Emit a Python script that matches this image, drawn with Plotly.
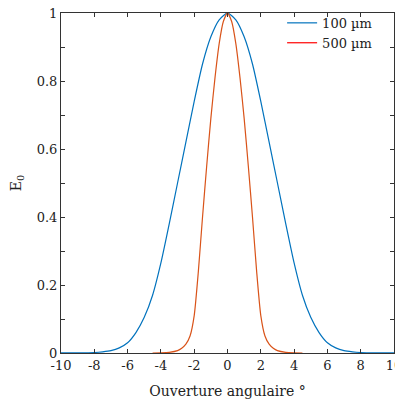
import plotly.graph_objects as go

# Blue curve (100 µm) – half profile, mirrored
blue_x_half = [0, 0.5, 1, 1.5, 2, 2.5, 3, 3.5, 4, 4.5, 5, 5.5, 6, 6.5, 7, 7.5, 8, 9, 10]
blue_y_half = [1, 0.98, 0.93, 0.85, 0.74, 0.62, 0.50, 0.38, 0.265, 0.17, 0.105, 0.06, 0.03, 0.015, 0.007, 0.0035, 0.0015, 0.0004, 0.0001]

# Red curve (500 µm)
red_x_half = [0, 0.25, 0.5, 0.75, 1.0, 1.25, 1.5, 1.75, 2.0, 2.25, 2.5, 2.75, 3.0, 3.5, 4.0, 4.5]
red_y_half = [1, 0.975, 0.91, 0.81, 0.69, 0.55, 0.40, 0.24, 0.11, 0.05, 0.026, 0.014, 0.007, 0.002, 0.0005, 0.0]

blue_x = [-v for v in blue_x_half[::-1]] + blue_x_half[1:]
blue_y = blue_y_half[::-1] + blue_y_half[1:]
red_x = [-v for v in red_x_half[::-1]] + red_x_half[1:]
red_y = red_y_half[::-1] + red_y_half[1:]

x_ticks = list(range(-10, 11, 2))
y_tickvals = [i / 10 for i in range(11)]
y_ticktext = ["0", "", "0.2", "", "0.4", "", "0.6", "", "0.8", "", "1"]

FONT = "DejaVu Serif"

fig = go.Figure()
fig.add_trace(go.Scatter(x=blue_x, y=blue_y, mode="lines", name="100 µm",
                         line=dict(color="#0072BD", width=1.2, shape="spline", smoothing=0.6)))
fig.add_trace(go.Scatter(x=red_x, y=red_y, mode="lines", name="500 µm", showlegend=False,
                         line=dict(color="#D95319", width=1.2, shape="spline", smoothing=0.6)))
fig.add_trace(go.Scatter(x=[None], y=[None], mode="lines", name="500 µm",
                         line=dict(color="#FF0000", width=1.2)))

axis_common = dict(showline=True, linecolor="#333333", linewidth=1, mirror="ticks",
                   ticks="inside", ticklen=4, tickcolor="#333333", showgrid=False,
                   zeroline=False, automargin=False, ticklabeloverflow="allow",
                   tickfont=dict(family=FONT, size=13, color="#222"))

fig.update_layout(
    width=395, height=391,
    margin=dict(l=53, r=9, t=5, b=46, autoexpand=False),
    paper_bgcolor="white", plot_bgcolor="white",
    font=dict(family=FONT, size=13, color="#222"),
    xaxis=dict(range=[-10, 10], tickvals=x_ticks, ticktext=[str(v) for v in x_ticks],
               title=dict(text="Ouverture angulaire °", font=dict(family=FONT, size=14), standoff=14),
               **axis_common),
    yaxis=dict(range=[0, 1], tickvals=y_tickvals, ticktext=y_ticktext,
               title=dict(text="E<sub>0</sub>", font=dict(family=FONT, size=14), standoff=13),
               **axis_common),
    legend=dict(x=0.664, y=1.015, xanchor="left", yanchor="top",
                bgcolor="rgba(255,255,255,0)",
                font=dict(family=FONT, size=13), tracegroupgap=0, itemwidth=30),
    showlegend=True,
)

fig.write_html("out.html")
